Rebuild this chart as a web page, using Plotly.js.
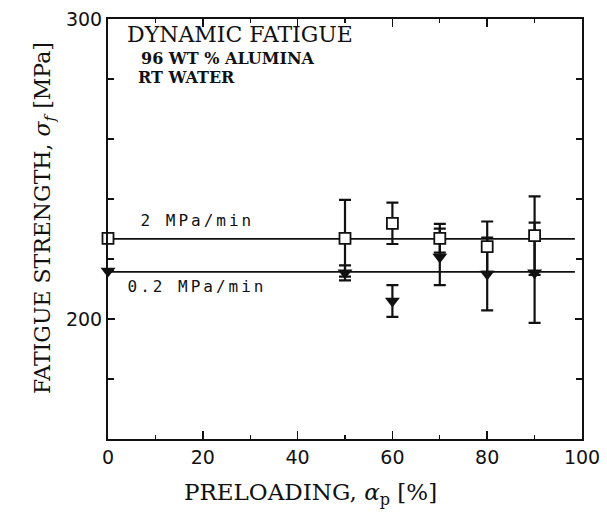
<!DOCTYPE html>
<html>
<head>
<meta charset="utf-8">
<script src="https://cdn.plot.ly/plotly-3.0.1.min.js"></script>
<style>
  html, body { margin: 0; padding: 0; background: #fff; }
  #chart { width: 607px; height: 516px; }
</style>
</head>
<body>
<div id="chart"></div>
<script>
// Preloading levels, % of the expected strength
const preload = [0, 50, 60, 70, 80, 90];

// Fatigue strength at 2 MPa/min (open squares) and its scatter
const strengthFast = [226.9, 226.9, 231.9, 226.9, 224.1, 227.8];
const errFast = [0, 12.8, 6.9, 4.8, 8.4, 13.1];

// Fatigue strength at 0.2 MPa/min (filled triangles) and its scatter
const strengthSlow = [216.0, 215.4, 206.0, 220.7, 215.0, 215.4];
const errSlow = [0, 2.5, 5.3, 9.4, 12.1, 16.7];

// Mean-strength lines for each stressing rate
const meanX = [0, 98.5];
const meanFast = [226.7, 226.7];
const meanSlow = [215.7, 215.7];

// Axis ticks
const xTicks = [0, 20, 40, 60, 80, 100];
const yTicks = [200, 300];
const yMinorTicks = [160, 180, 220, 240, 260, 280];

const ink = '#111';
const serif = 'DejaVu Serif, serif';

const traces = [
  { x: meanX, y: meanFast, mode: 'lines', line: { color: ink, width: 1.6 }, hoverinfo: 'skip' },
  { x: meanX, y: meanSlow, mode: 'lines', line: { color: ink, width: 1.6 }, hoverinfo: 'skip' },
  {
    x: preload, y: strengthSlow, mode: 'markers', cliponaxis: false,
    marker: { symbol: 'triangle-down', size: 13, color: ink },
    error_y: { type: 'data', array: errSlow, visible: true, color: ink, thickness: 2.2, width: 6 }
  },
  {
    x: preload, y: strengthFast, mode: 'markers', cliponaxis: false,
    marker: { symbol: 'square', size: 11, color: '#fff', line: { color: ink, width: 1.8 } },
    error_y: { type: 'data', array: errFast, visible: true, color: ink, thickness: 2.2, width: 6 }
  }
];

const layout = {
  width: 607, height: 516,
  margin: { l: 108, r: 25, t: 19, b: 77 },
  paper_bgcolor: '#fff', plot_bgcolor: '#fff',
  showlegend: false,
  font: { family: 'DejaVu Sans, sans-serif', color: ink },
  xaxis: {
    range: [0, 100], tickvals: xTicks, ticks: 'inside', ticklen: 8, tickwidth: 1.6,
    tickcolor: ink, showline: true, linewidth: 2, linecolor: ink, mirror: 'ticks',
    showgrid: false, zeroline: false,
    tickfont: { family: 'DejaVu Sans, sans-serif', size: 19, color: ink },
    minor: { dtick: 10, ticks: 'inside', ticklen: 4, tickwidth: 1.4, tickcolor: ink, showgrid: false }
  },
  yaxis: {
    range: [160, 300], tickvals: yTicks, ticks: 'inside', ticklen: 7,
    tickwidth: 1.6, tickcolor: ink, showline: true, linewidth: 2, linecolor: ink, mirror: 'ticks',
    showgrid: false, zeroline: false,
    tickfont: { family: 'DejaVu Sans, sans-serif', size: 19, color: ink },
    minor: { tickvals: yMinorTicks, ticks: 'inside', ticklen: 6, tickwidth: 1.4, tickcolor: ink, showgrid: false }
  },
  annotations: [
    { xref: 'paper', yref: 'paper', x: 0.036, y: 0.964, xanchor: 'left', yanchor: 'middle', showarrow: false,
      text: 'DYNAMIC FATIGUE', font: { family: serif, size: 22, color: ink } },
    { xref: 'paper', yref: 'paper', x: 0.065, y: 0.905, xanchor: 'left', yanchor: 'middle', showarrow: false,
      text: '96 WT % ALUMINA', font: { family: serif, size: 16, weight: 'bold', color: ink } },
    { xref: 'paper', yref: 'paper', x: 0.059, y: 0.86, xanchor: 'left', yanchor: 'middle', showarrow: false,
      text: 'RT WATER', font: { family: serif, size: 16, weight: 'bold', color: ink } },
    { xref: 'paper', yref: 'paper', x: 0.093, y: 0.52, xanchor: 'left', yanchor: 'middle', showarrow: false,
      text: '2 MPa/min', font: { family: 'DejaVu Sans Mono, monospace', size: 16, color: ink } },
    { xref: 'paper', yref: 'paper', x: 0.072, y: 0.363, xanchor: 'left', yanchor: 'middle', showarrow: false,
      text: '0.2 MPa/min', font: { family: 'DejaVu Sans Mono, monospace', size: 16, color: ink } },
    { xref: 'paper', yref: 'paper', x: -0.135, y: 0.526, xanchor: 'center', yanchor: 'middle', showarrow: false,
      textangle: -90,
      text: 'FATIGUE STRENGTH, <i>σ</i><sub><i>f</i></sub> [MPa]', font: { family: serif, size: 22, color: ink } },
    { xref: 'paper', yref: 'paper', x: 0.428, y: -0.131, xanchor: 'center', yanchor: 'middle', showarrow: false,
      text: 'PRELOADING, <i>α</i><sub>p</sub> [%]', font: { family: serif, size: 23, color: ink } }
  ]
};

Plotly.newPlot('chart', traces, layout, { staticPlot: true }).then(function () {
  // The stressing-rate labels are set in a widely spaced typewriter style
  document.querySelectorAll('.annotation-text').forEach(function (el) {
    if (el.textContent.indexOf('MPa/min') !== -1) {
      el.style.letterSpacing = '3px';
    }
  });
});
</script>
</body>
</html>
